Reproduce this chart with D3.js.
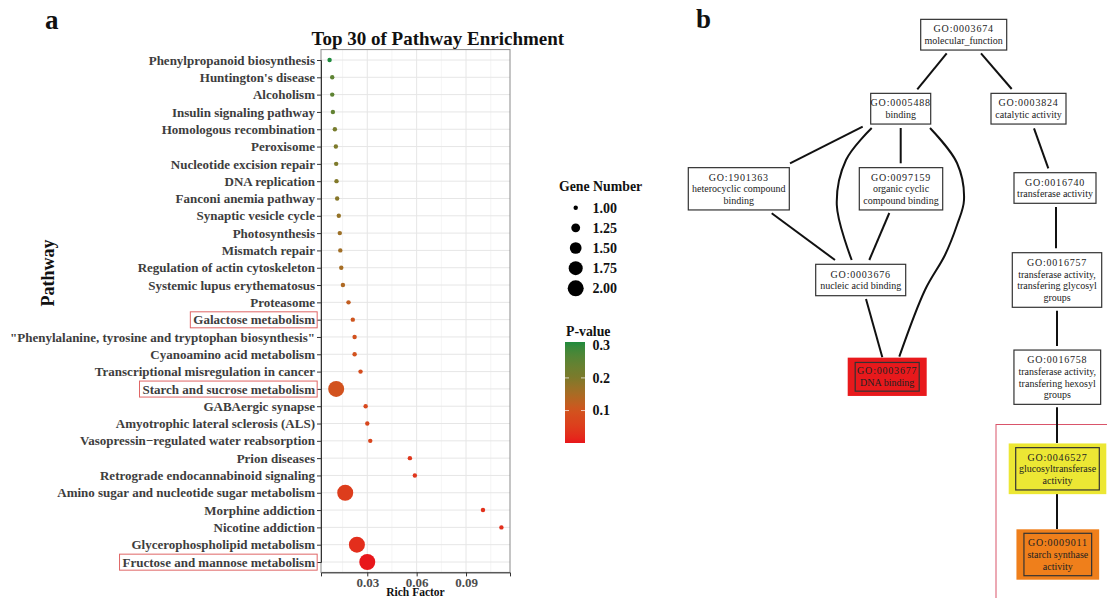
<!DOCTYPE html>
<html>
<head>
<meta charset="utf-8">
<script src="https://cdn.jsdelivr.net/npm/d3@7"></script>
<style>
  body { margin: 0; background: #fff; }
  text { font-family: "Liberation Serif", "DejaVu Serif", serif; }
</style>
</head>
<body>
<script>
// ---- panel a data ----
const pathways = [
    "Phenylpropanoid biosynthesis", "Huntington's disease", "Alcoholism",
    "Insulin signaling pathway", "Homologous recombination", "Peroxisome",
    "Nucleotide excision repair", "DNA replication", "Fanconi anemia pathway",
    "Synaptic vesicle cycle", "Photosynthesis", "Mismatch repair",
    "Regulation of actin cytoskeleton", "Systemic lupus erythematosus", "Proteasome",
    "Galactose metabolism", "\"Phenylalanine, tyrosine and tryptophan biosynthesis\"",
    "Cyanoamino acid metabolism", "Transcriptional misregulation in cancer",
    "Starch and sucrose metabolism", "GABAergic synapse",
    "Amyotrophic lateral sclerosis (ALS)", "Vasopressin\u2212regulated water reabsorption",
    "Prion diseases", "Retrograde endocannabinoid signaling",
    "Amino sugar and nucleotide sugar metabolism", "Morphine addiction",
    "Nicotine addiction", "Glycerophospholipid metabolism", "Fructose and mannose metabolism"
];
const richFactor = [
    0.0071, 0.0087, 0.0087, 0.0091, 0.0103, 0.0109, 0.0111, 0.0113, 0.0117, 0.0127,
    0.0133, 0.0136, 0.0142, 0.0152, 0.0186, 0.0212, 0.0223, 0.0223, 0.0259, 0.0111,
    0.0290, 0.0300, 0.0318, 0.0559, 0.0589, 0.0166, 0.1003, 0.1115, 0.0237, 0.0300
];
const geneNumber = [
    1, 1, 1, 1, 1, 1, 1, 1, 1, 1, 1, 1, 1, 1, 1,
    1, 1, 1, 1, 2, 1, 1, 1, 1, 1, 2, 1, 1, 2, 2
];
const pValue = [
    0.310, 0.250, 0.250, 0.245, 0.210, 0.200, 0.200, 0.195, 0.190, 0.175,
    0.165, 0.160, 0.155, 0.145, 0.120, 0.105, 0.100, 0.100, 0.085, 0.100,
    0.075, 0.072, 0.068, 0.040, 0.038, 0.050, 0.030, 0.027, 0.025, 0.0006
];
const highlighted = ["Galactose metabolism", "Starch and sucrose metabolism", "Fructose and mannose metabolism"];
const xTicks = [0.03, 0.06, 0.09];
const xMinor = [0.015, 0.045, 0.075, 0.105];
const sizeBreaks = [1.00, 1.25, 1.50, 1.75, 2.00];
const pBreaks = [0.1, 0.2, 0.3];
// colour ramp stops
const pStops = [0.1, 0.2];
const pColors = ["#e8161b", "#d2521e", "#7d7a2b", "#1f8b3d"];

// ---- panel b data ----
const goNodes = [
    { id: "GO:0003674", label: ["molecular_function"] },
    { id: "GO:0005488", label: ["binding"] },
    { id: "GO:0003824", label: ["catalytic activity"] },
    { id: "GO:1901363", label: ["heterocyclic compound", "binding"] },
    { id: "GO:0097159", label: ["organic cyclic", "compound binding"] },
    { id: "GO:0016740", label: ["transferase activity"] },
    { id: "GO:0003676", label: ["nucleic acid binding"] },
    { id: "GO:0016757", label: ["transferase activity,", "transfering glycosyl", "groups"] },
    { id: "GO:0003677", label: ["DNA binding"] },
    { id: "GO:0016758", label: ["transferase activity,", "transfering hexosyl", "groups"] },
    { id: "GO:0046527", label: ["glucosyltransferase", "activity"] },
    { id: "GO:0009011", label: ["starch synthase", "activity"] }
];
const goEdges = [
    ["GO:0003674", "GO:0005488"], ["GO:0003674", "GO:0003824"],
    ["GO:0005488", "GO:1901363"], ["GO:0005488", "GO:0003676"],
    ["GO:0005488", "GO:0097159"], ["GO:0005488", "GO:0003677"],
    ["GO:1901363", "GO:0003676"], ["GO:0097159", "GO:0003676"],
    ["GO:0003676", "GO:0003677"], ["GO:0003824", "GO:0016740"],
    ["GO:0016740", "GO:0016757"], ["GO:0016757", "GO:0016758"],
    ["GO:0016758", "GO:0046527"], ["GO:0046527", "GO:0009011"]
];

// ---- panel b layout (graph drawing positions) ----
const nodeLayout = {
    "GO:0003674": { cx: 963.7, cy: 34.7, w: 86, h: 30.7 },
    "GO:0005488": { cx: 900.7, cy: 108.7, w: 60, h: 30.7 },
    "GO:0003824": { cx: 1028.5, cy: 108.7, w: 75, h: 30.7 },
    "GO:1901363": { cx: 738.8, cy: 188.8, w: 101, h: 42.3 },
    "GO:0097159": { cx: 901, cy: 188.8, w: 83.4, h: 42.3 },
    "GO:0016740": { cx: 1055, cy: 188, w: 82, h: 30.6 },
    "GO:0003676": { cx: 860.7, cy: 280, w: 90, h: 31.4 },
    "GO:0016757": { cx: 1057, cy: 280, w: 89.4, h: 54.6 },
    "GO:0003677": { cx: 887.2, cy: 376.8, w: 64, h: 28.7, fill: "#e8191c", pad: [7.5, 4.8] },
    "GO:0016758": { cx: 1057.3, cy: 377.2, w: 86.7, h: 54.3 },
    "GO:0046527": { cx: 1057.5, cy: 468.8, w: 83.6, h: 42.3, fill: "#ece734", pad: [7, 4.2] },
    "GO:0009011": { cx: 1057.8, cy: 554.5, w: 67.7, h: 42.4, fill: "#ef7f1b", pad: [7.5, 4] }
};
const edgeRoutes = [
    [[946.7, 53.3], [917.3, 89.3]],
    [[981, 53.3], [1011.7, 89]],
    [[862.7, 126.7], [790, 163.3]],
    [[871.7, 128], [846, 160], [836.8, 205], [851.7, 260]],
    [[900.7, 128], [900.7, 163.3]],
    [[930, 128], [957, 163], [964, 200], [957, 225], [945, 255], [925, 290], [899.3, 356.7]],
    [[771.7, 213.3], [835, 260]],
    [[889.3, 213], [869.3, 260]],
    [[866, 299], [882.3, 357.3]],
    [[1034, 128.3], [1048.3, 168.3]],
    [[1056, 207], [1056, 248.3]],
    [[1057, 310.7], [1057, 346]],
    [[1057, 407.3], [1057, 443]],
    [[1057, 494], [1057, 529]]
];

const width = 1107;
const height = 598;

const svg = d3.select("body")
    .append("svg")
    .attr("width", width)
    .attr("height", height);

// ================= panel a =================
const panel = { left: 321, right: 510, top: 49.6, bottom: 572.4 };

const rows = pathways.map((p, i) => ({
    pathway: p, rf: richFactor[i], genes: geneNumber[i], p: pValue[i]
}));

const [rfMin, rfMax] = d3.extent(richFactor);
const pad = (rfMax - rfMin) * 0.05;
const x = d3.scaleLinear()
    .domain([rfMin - pad, rfMax + pad])
    .range([panel.left, panel.right]);

const y = d3.scalePoint()
    .domain(pathways)
    .range([60, 562]);

const r = d3.scaleRadial()
    .domain([1, 2])
    .range([2.2, 8]);

const [pMin, pMax] = d3.extent(pValue);
const color = d3.scaleLinear()
    .domain([pMin, ...pStops, pMax])
    .range(pColors)
    .interpolate(d3.interpolateLab);

// grid
const grid = svg.append("g");
grid.selectAll(".minor")
    .data(xMinor)
    .enter().append("line")
    .attr("x1", d => x(d)).attr("x2", d => x(d))
    .attr("y1", panel.top).attr("y2", panel.bottom)
    .attr("stroke", "#f2f2f2").attr("stroke-width", 0.8);
grid.selectAll(".major")
    .data(xTicks)
    .enter().append("line")
    .attr("x1", d => x(d)).attr("x2", d => x(d))
    .attr("y1", panel.top).attr("y2", panel.bottom)
    .attr("stroke", "#e6e6e6").attr("stroke-width", 1);
grid.selectAll(".hrow")
    .data(pathways)
    .enter().append("line")
    .attr("x1", panel.left).attr("x2", panel.right)
    .attr("y1", d => y(d)).attr("y2", d => y(d))
    .attr("stroke", "#e6e6e6").attr("stroke-width", 1);

// panel border
svg.append("rect")
    .attr("x", panel.left).attr("y", panel.top)
    .attr("width", panel.right - panel.left)
    .attr("height", panel.bottom - panel.top)
    .attr("fill", "none")
    .attr("stroke", "#8a8a8a")
    .attr("stroke-width", 1);

// axes
const yAxis = svg.append("g")
    .attr("transform", `translate(${panel.left},0)`)
    .call(d3.axisLeft(y).tickSize(4).tickPadding(2));
yAxis.select(".domain").attr("stroke", "#333");
yAxis.selectAll(".tick line").attr("stroke", "#333");
yAxis.selectAll("text")
    .style("font-family", "Liberation Serif")
    .style("font-weight", "bold")
    .style("font-size", "13px")
    .attr("fill", "#3d3d3d");

const xAxis = svg.append("g")
    .attr("transform", `translate(0,${panel.bottom})`)
    .call(d3.axisBottom(x).tickValues(xTicks).tickFormat(d3.format(".2f")).tickSize(4).tickPadding(1));
xAxis.select(".domain").attr("stroke", "#333");
xAxis.selectAll(".tick line").attr("stroke", "#333");
xAxis.selectAll("text")
    .style("font-family", "Liberation Serif")
    .style("font-weight", "bold")
    .style("font-size", "13px")
    .attr("fill", "#4d4d4d");

// highlight boxes around selected labels
yAxis.selectAll(".tick").each(function (d) {
    if (!highlighted.includes(d)) return;
    const t = d3.select(this).select("text");
    const bb = t.node().getBBox();
    d3.select(this).insert("rect", "text")
        .attr("x", bb.x - 3).attr("y", bb.y - 0.5)
        .attr("width", bb.width + 5).attr("height", bb.height + 1)
        .attr("fill", "none")
        .attr("stroke", "#e06666")
        .attr("stroke-width", 1);
});

// points
svg.append("g").selectAll("circle")
    .data(rows)
    .enter().append("circle")
    .attr("cx", d => x(d.rf))
    .attr("cy", d => y(d.pathway))
    .attr("r", d => r(d.genes))
    .attr("fill", d => color(d.p));

// titles
svg.append("text")
    .attr("x", 45).attr("y", 29)
    .style("font-weight", "bold").style("font-size", "27px")
    .attr("fill", "#111")
    .text("a");
svg.append("text")
    .attr("x", 311.5).attr("y", 45)
    .style("font-weight", "bold").style("font-size", "19px")
    .attr("fill", "#111")
    .text("Top 30 of Pathway Enrichment");
svg.append("text")
    .attr("transform", "translate(54,273) rotate(-90)")
    .attr("text-anchor", "middle")
    .style("font-weight", "bold").style("font-size", "18px")
    .attr("fill", "#111")
    .text("Pathway");
svg.append("text")
    .attr("x", (panel.left + panel.right) / 2).attr("y", 596)
    .attr("text-anchor", "middle")
    .style("font-weight", "bold").style("font-size", "11.5px")
    .attr("fill", "#111")
    .text("Rich Factor");

// size legend
const legS = svg.append("g");
legS.append("text")
    .attr("x", 559).attr("y", 191)
    .style("font-weight", "bold").style("font-size", "13.8px")
    .attr("fill", "#111")
    .text("Gene Number");
const sizeY = d3.scalePoint().domain(sizeBreaks).range([207.7, 288.3]);
legS.selectAll("circle")
    .data(sizeBreaks)
    .enter().append("circle")
    .attr("cx", 575.7)
    .attr("cy", d => sizeY(d))
    .attr("r", d => r(d))
    .attr("fill", "#000");
legS.selectAll(".lab")
    .data(sizeBreaks)
    .enter().append("text")
    .attr("x", 592.5)
    .attr("y", d => sizeY(d))
    .attr("dy", "0.35em")
    .style("font-weight", "bold").style("font-size", "14px")
    .attr("fill", "#111")
    .text(d => d3.format(".2f")(d));

// colour legend
const legC = svg.append("g");
legC.append("text")
    .attr("x", 566).attr("y", 336)
    .style("font-weight", "bold").style("font-size", "13.8px")
    .attr("fill", "#111")
    .text("P-value");
const barY = d3.scaleLinear().domain([pMin, pMax]).range([443, 342]);
const defs = svg.append("defs");
const grad = defs.append("linearGradient")
    .attr("id", "pgrad")
    .attr("x1", 0).attr("y1", 1).attr("x2", 0).attr("y2", 0);
d3.range(0, 1.0001, 0.05).forEach(t => {
    const v = pMin + t * (pMax - pMin);
    grad.append("stop").attr("offset", t).attr("stop-color", color(v));
});
legC.append("rect")
    .attr("x", 565).attr("y", 342)
    .attr("width", 20).attr("height", 101)
    .attr("fill", "url(#pgrad)");
legC.selectAll(".tk")
    .data(pBreaks.slice(0, 2))
    .enter().append("g")
    .each(function (d) {
        const g = d3.select(this);
        g.append("line").attr("x1", 565).attr("x2", 569).attr("y1", barY(d)).attr("y2", barY(d))
            .attr("stroke", "#fff").attr("stroke-width", 1).attr("opacity", 0.7);
        g.append("line").attr("x1", 581).attr("x2", 585).attr("y1", barY(d)).attr("y2", barY(d))
            .attr("stroke", "#fff").attr("stroke-width", 1).attr("opacity", 0.7);
    });
legC.selectAll(".lab")
    .data(pBreaks)
    .enter().append("text")
    .attr("x", 592.5)
    .attr("y", d => barY(d))
    .attr("dy", "0.35em")
    .style("font-weight", "bold").style("font-size", "14px")
    .attr("fill", "#111")
    .text(d => d3.format(".1f")(d));

// ================= panel b =================
svg.append("text")
    .attr("x", 696).attr("y", 28)
    .style("font-weight", "bold").style("font-size", "27px")
    .attr("fill", "#111")
    .text("b");

// highlight frame
svg.append("rect")
    .attr("x", 996).attr("y", 424.5)
    .attr("width", 140).attr("height", 200)
    .attr("fill", "none")
    .attr("stroke", "#d9546a")
    .attr("stroke-width", 1);

const line = d3.line().curve(d3.curveCatmullRom.alpha(0.5));
svg.append("g").selectAll("path")
    .data(goEdges.map((e, i) => ({ edge: e, route: edgeRoutes[i] })))
    .enter().append("path")
    .attr("d", d => line(d.route))
    .attr("fill", "none")
    .attr("stroke", "#111")
    .attr("stroke-width", 2);

const nodes = svg.append("g").selectAll("g")
    .data(goNodes)
    .enter().append("g")
    .attr("transform", d => `translate(${nodeLayout[d.id].cx},${nodeLayout[d.id].cy})`);

nodes.filter(d => nodeLayout[d.id].fill)
    .append("rect")
    .attr("x", d => -nodeLayout[d.id].w / 2 - nodeLayout[d.id].pad[0])
    .attr("y", d => -nodeLayout[d.id].h / 2 - nodeLayout[d.id].pad[1])
    .attr("width", d => nodeLayout[d.id].w + 2 * nodeLayout[d.id].pad[0])
    .attr("height", d => nodeLayout[d.id].h + 2 * nodeLayout[d.id].pad[1])
    .attr("fill", d => nodeLayout[d.id].fill);

nodes.append("rect")
    .attr("x", d => -nodeLayout[d.id].w / 2)
    .attr("y", d => -nodeLayout[d.id].h / 2)
    .attr("width", d => nodeLayout[d.id].w)
    .attr("height", d => nodeLayout[d.id].h)
    .attr("fill", d => nodeLayout[d.id].fill ? "none" : "#fff")
    .attr("stroke", "#333")
    .attr("stroke-width", 1.2);

nodes.each(function (d) {
    const linesTxt = [d.id].concat(d.label);
    const lh = 11.8;
    const y0 = -(linesTxt.length - 1) * lh / 2;
    d3.select(this).selectAll("text")
        .data(linesTxt)
        .enter().append("text")
        .attr("x", 0)
        .attr("y", (t, i) => y0 + i * lh)
        .attr("dy", "0.35em")
        .attr("text-anchor", "middle")
        .style("font-size", "10px")
        .style("letter-spacing", (t, i) => i === 0 ? "0.8px" : null)
        .attr("fill", "#222")
        .text(t => t);
});
</script>
</body>
</html>
